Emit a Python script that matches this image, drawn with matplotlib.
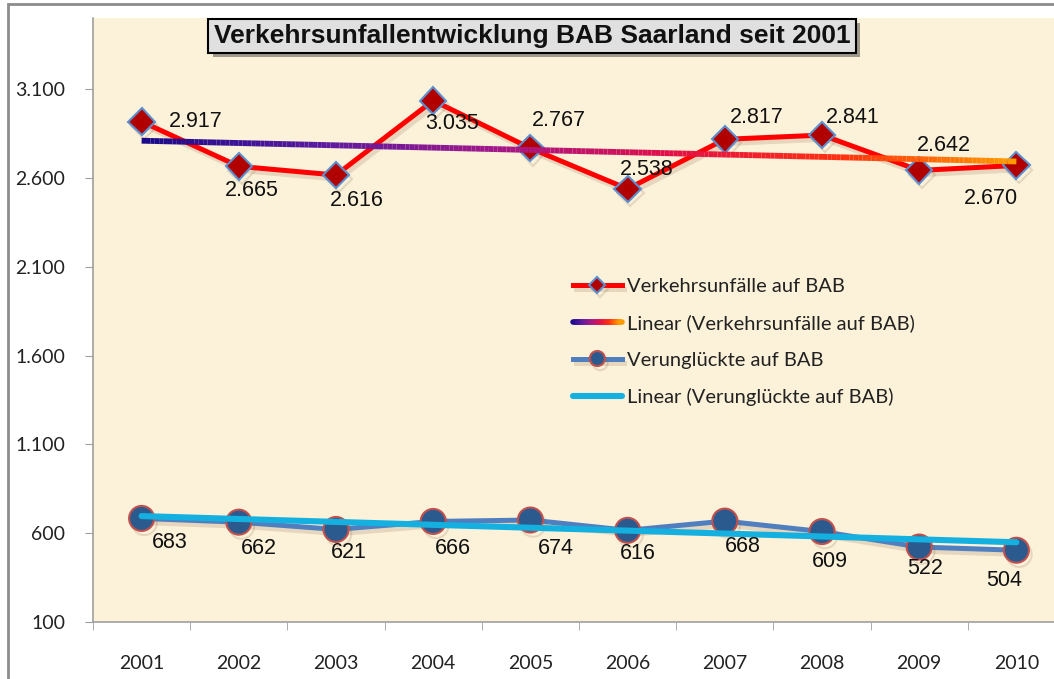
import numpy as np
import matplotlib
matplotlib.use("Agg")
import matplotlib.pyplot as plt
import matplotlib.patheffects as pe
from matplotlib.collections import LineCollection
from matplotlib.colors import LinearSegmentedColormap
from matplotlib.legend_handler import HandlerBase
from matplotlib.patches import Rectangle

years = ["2001", "2002", "2003", "2004", "2005", "2006", "2007", "2008", "2009", "2010"]
unfaelle = [2917, 2665, 2616, 3035, 2767, 2538, 2817, 2841, 2642, 2670]
verunglueckte = [683, 662, 621, 666, 674, 616, 668, 609, 522, 504]

title = "Verkehrsunfallentwicklung BAB Saarland seit 2001"
lbl_unf = "Verkehrsunfälle auf BAB"
lbl_unf_trend = "Linear (Verkehrsunfälle auf BAB)"
lbl_ver = "Verunglückte auf BAB"
lbl_ver_trend = "Linear (Verunglückte auf BAB)"

# label centre offsets in pixels (dx, dy), tuned by eye
off_unf = [(54, 0), (13, -24), (21, -25), (19, -23), (28, 28),
           (19, 19), (32, 22), (31, 18), (25, 25), (-25, -33)]
off_ver = [(28, -24), (20, -26), (13, -23), (20, -27), (25, -28),
           (10, -23), (18, -25), (8, -30), (6, -21), (-12, -30)]


def de(v):
    return f"{int(v):,}".replace(",", ".")


trend_cmap = LinearSegmentedColormap.from_list(
    "tr", ["#1a0a8a", "#5a1aa0", "#a0188a", "#e0104a", "#ff3010", "#ff9a00"])


class GradientHandler(HandlerBase):
    def create_artists(self, legend, orig_handle, xdescent, ydescent,
                       width, height, fontsize, trans):
        xs = np.linspace(-xdescent, width - xdescent, 30)
        yy = np.full_like(xs, height / 2 - ydescent)
        pts = np.array([xs, yy]).T.reshape(-1, 1, 2)
        segs = np.concatenate([pts[:-1], pts[1:]], axis=1)
        lc = LineCollection(segs, cmap=trend_cmap, linewidths=4,
                            transform=trans, capstyle="round")
        lc.set_array(np.linspace(0, 1, len(segs)))
        return [lc]


fig = plt.figure(figsize=(10.54, 6.79), dpi=100)
fig.patch.set_facecolor("white")
ax = fig.add_axes([93 / 1054, 57 / 679, 972 / 1054, 604 / 679])
ax.set_facecolor("#fcf1d9")

x = np.arange(1, len(years) + 1)
shadow = [pe.SimpleLineShadow(offset=(2, -3), alpha=0.18, shadow_color="#806040"), pe.Normal()]

# Verkehrsunfaelle
l1, = ax.plot(x, unfaelle, color="#ff0000", lw=3.6, marker="D", ms=13.5,
              mfc="#b00000", mec="#5b8fcf", mew=1.5, zorder=4,
              label=lbl_unf, path_effects=shadow)

# trend (gradient)
k, d = np.polyfit(x, unfaelle, 1)
tx = np.linspace(x[0], x[-1], 200)
pts = np.array([tx, k * tx + d]).T.reshape(-1, 1, 2)
segs = np.concatenate([pts[:-1], pts[1:]], axis=1)
lc = LineCollection(segs, cmap=trend_cmap, linewidths=4.2, zorder=5, label=lbl_unf_trend)
lc.set_array(np.linspace(0, 1, len(segs)))
ax.add_collection(lc)

# Verunglueckte
l2, = ax.plot(x, verunglueckte, color="#4f7fbf", lw=3.6, marker="o", ms=18,
              mfc="#2b5a8e", mec="#c0504d", mew=1.5, zorder=4,
              label=lbl_ver, path_effects=shadow)
k2, d2 = np.polyfit(x, verunglueckte, 1)
l3, = ax.plot(tx, k2 * tx + d2, color="#14b0e0", lw=4.4, zorder=5,
              label=lbl_ver_trend, solid_capstyle="round")

for xi, v, (dx, dy) in zip(x, unfaelle, off_unf):
    ax.annotate(de(v), (xi, v), xytext=(dx, dy), textcoords="offset pixels",
                ha="center", va="center", fontsize=15.5,
                family="Liberation Sans", color="#111111", zorder=6)
for xi, v, (dx, dy) in zip(x, verunglueckte, off_ver):
    ax.annotate(de(v), (xi, v), xytext=(dx, dy), textcoords="offset pixels",
                ha="center", va="center", fontsize=15.5,
                family="Liberation Sans", color="#111111", zorder=6)

ax.set_xlim(0.5, 10.5)
ax.set_ylim(100, 3500)
ax.set_yticks(range(100, 3101, 500))
ax.set_yticklabels([de(t) for t in range(100, 3101, 500)])
ax.set_xticks(x)
ax.set_xticklabels(years)
ax.set_xticks(np.arange(0.5, 11, 1), minor=True)
ax.tick_params(axis="x", which="major", length=0, pad=24)
ax.tick_params(axis="x", which="minor", length=6, color="#a0a0a0", direction="out")
ax.tick_params(axis="y", length=6, color="#a0a0a0", pad=14)
for lab in ax.get_xticklabels() + ax.get_yticklabels():
    lab.set_family("Lato")
    lab.set_fontsize(14)
    lab.set_color("#222222")
for s in ["top", "right"]:
    ax.spines[s].set_visible(False)
for s in ["left", "bottom"]:
    ax.spines[s].set_color("#a0a0a0")
    ax.spines[s].set_linewidth(1.2)

leg = ax.legend([l1, lc, l2, l3], [lbl_unf, lbl_unf_trend, lbl_ver, lbl_ver_trend],
                handler_map={LineCollection: GradientHandler()},
                loc="center left", bbox_to_anchor=(0.494, 0.4636),
                frameon=False, borderpad=0, borderaxespad=0,
                handlelength=2.4, handletextpad=0.25, labelspacing=0.95,
                prop={"family": "Lato", "size": 14.5}, markerscale=0.6)
for t in leg.get_texts():
    t.set_color("#222222")

# chart border
fig.patches.append(Rectangle((8 / 1054, -0.1), 1.2, 1 - 4 / 679 + 0.1,
                             transform=fig.transFigure, fill=False,
                             ec="#8c8c8c", lw=2))

t = fig.text(532 / 1054, 1 - 36 / 679, title, ha="center", va="center",
             fontsize=19, fontweight="bold", family="Liberation Sans", color="#111111",
             bbox=dict(boxstyle="square,pad=0.2", fc="#e0e0e0", ec="black", lw=1.5))
t.get_bbox_patch().set_path_effects([pe.SimplePatchShadow(offset=(3, -3), alpha=0.5), pe.Normal()])

fig.savefig("out.png", dpi=100)
